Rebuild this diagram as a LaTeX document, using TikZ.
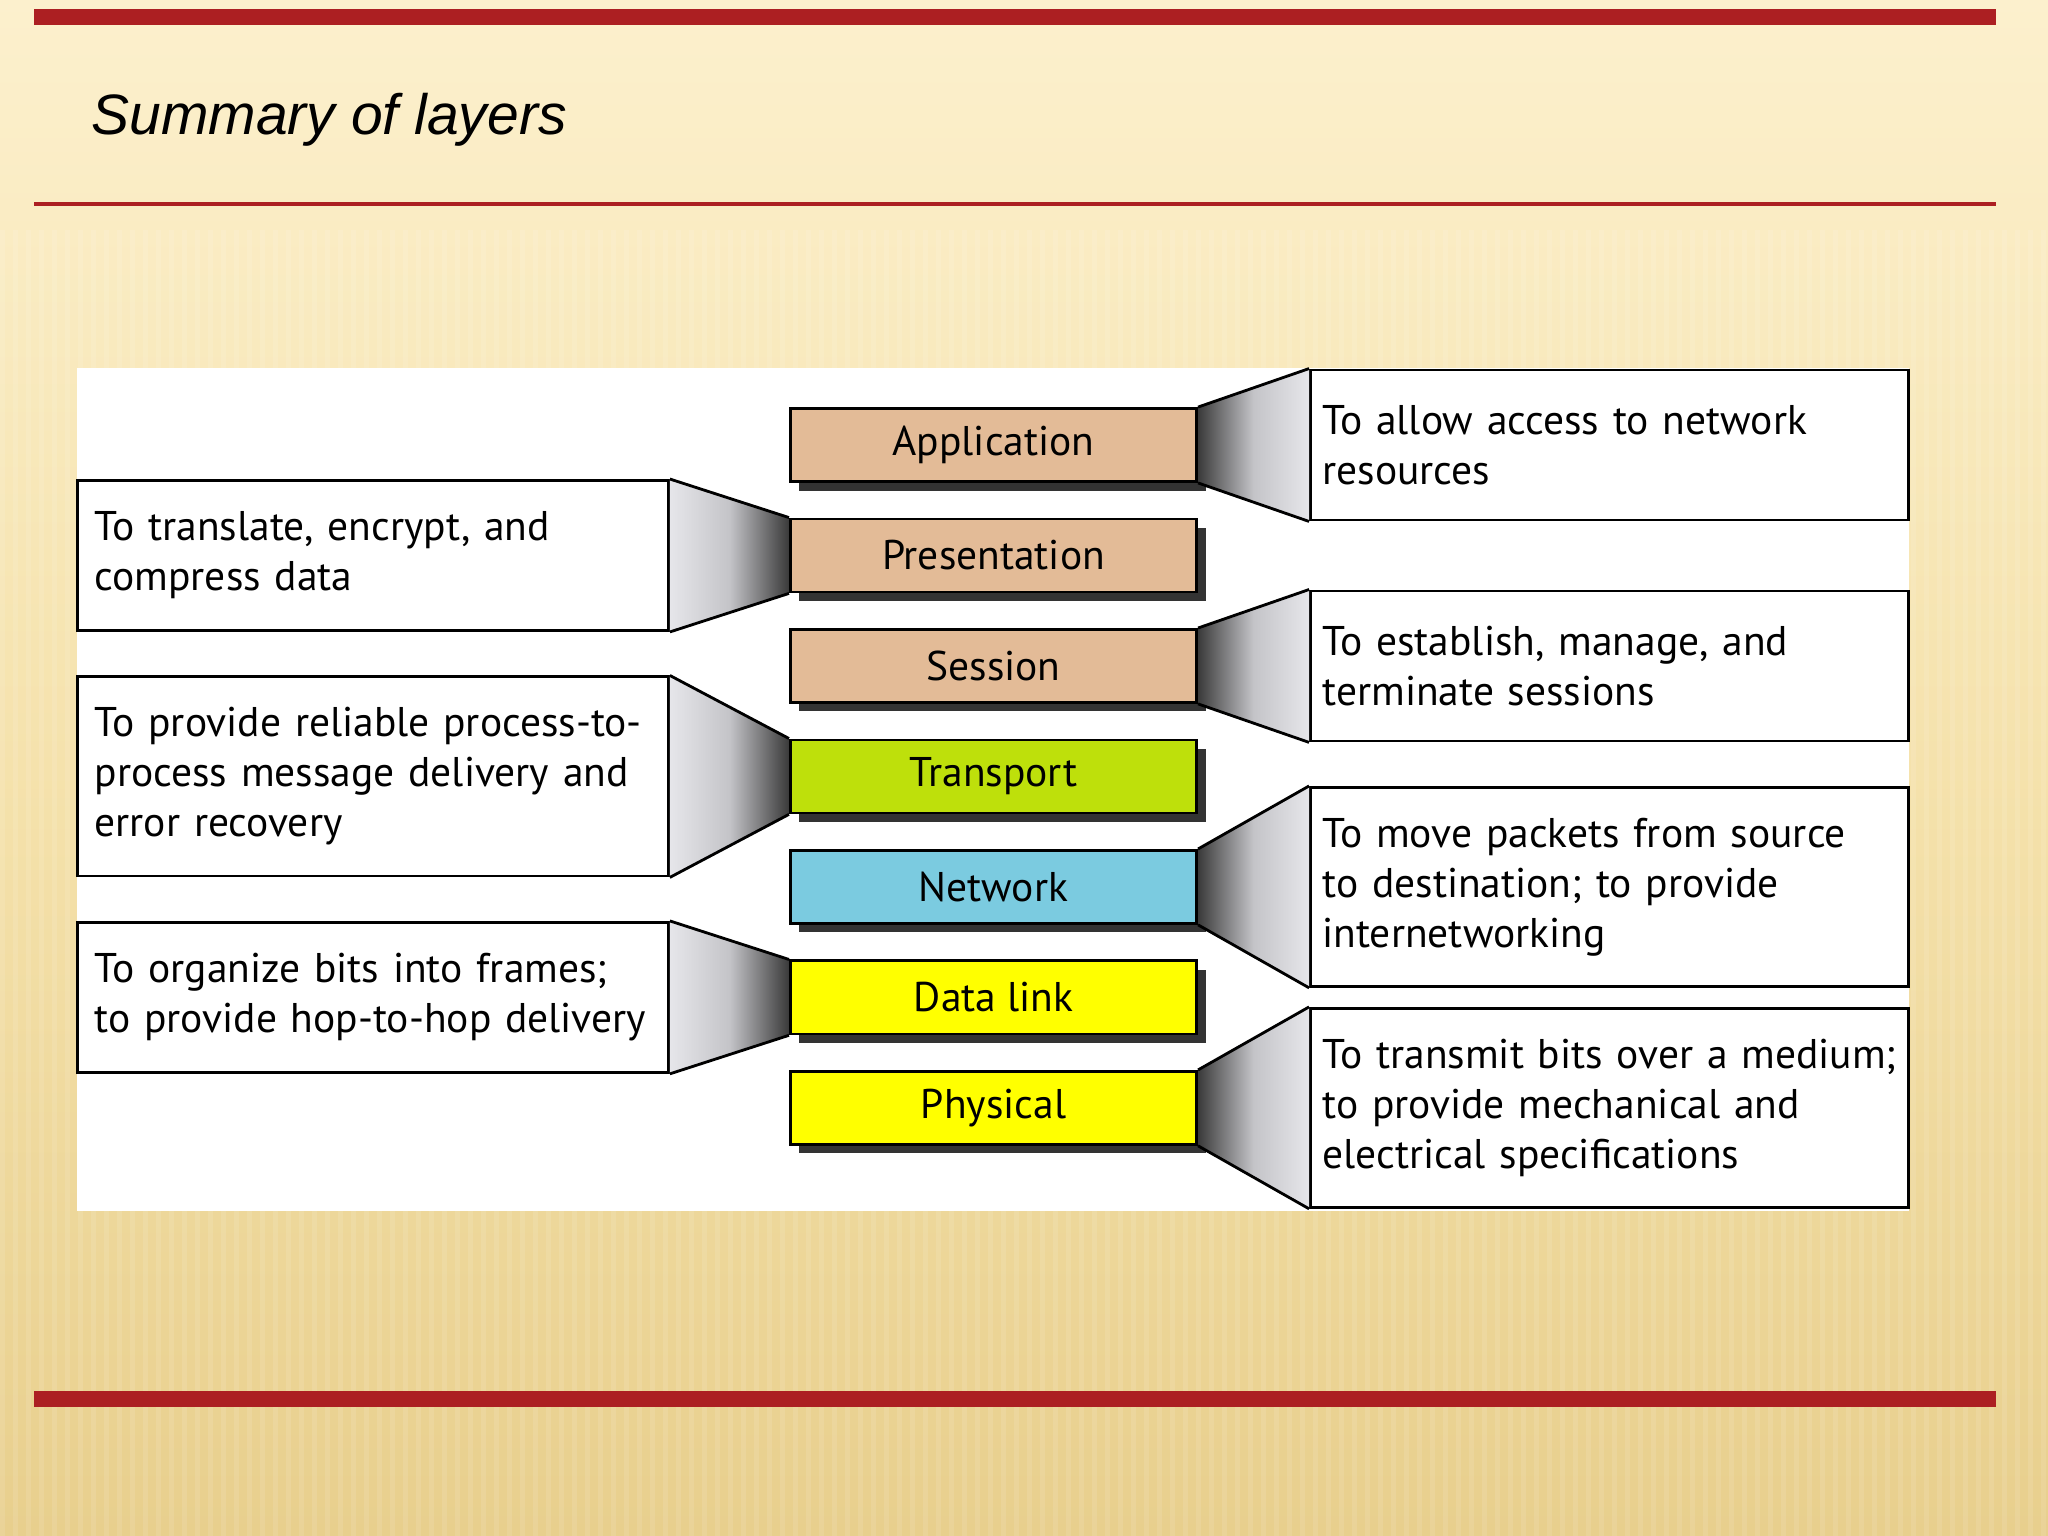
\documentclass[tikz,border=0pt]{standalone}
\usepackage{fontspec}
\setmainfont{PT Sans}
\newfontfamily\titlefont{Liberation Sans}
\usepackage{xcolor}
\usetikzlibrary{positioning,shadows}

\definecolor{slidetop}{HTML}{FCF0CD}
\definecolor{slidemid}{HTML}{F5E2AC}
\definecolor{slidebot}{HTML}{E8CF8D}
\definecolor{barred}{HTML}{AC1F22}
\definecolor{upperfill}{HTML}{E3BB97}
\definecolor{transfill}{HTML}{BEE00B}
\definecolor{netfill}{HTML}{7BCBE0}
\definecolor{linkfill}{HTML}{FFFF00}
\definecolor{shadowgray}{HTML}{333333}
\definecolor{funneldark}{HTML}{3A3A3A}
\definecolor{funnelmid}{HTML}{C4C4C8}
\definecolor{funnellight}{HTML}{E6E6EA}
\newcommand{\notesize}{\fontsize{11.8}{14.2}\selectfont}

\begin{document}
\begin{tikzpicture}[
    x=0.01cm, y=-0.01cm,
    layer/.style={draw, line width=0.8pt, minimum width=4.06cm, minimum height=0.73cm,
        inner sep=0pt, font=\notesize,
        drop shadow={shadow xshift=0.09cm, shadow yshift=-0.09cm, fill=shadowgray, opacity=1}},
    note/.style={draw, fill=white, line width=0.8pt, align=left, font=\notesize},
    leftnote/.style={note, text width=5.56cm, inner xsep=0.175cm},
    rightnote/.style={note, text width=5.74cm, inner xsep=0.12cm},
    twolines/.style={minimum height=1.50cm},
    threelines/.style={minimum height=1.99cm},
    funnel/.style={line width=0.8pt}
]
    % slide background
    \useasboundingbox (0,0) rectangle (2048,1536);
    \shade[top color=slidetop, bottom color=slidebot, middle color=slidemid] (0,0) rectangle (2048,1536);
    \foreach \sx in {0,13,...,2048}
        \fill[white, opacity=0.10] (\sx,230) rectangle ++(5,1306);
    \fill[barred] (34,9) rectangle (1996,25);
    \fill[barred] (34,202) rectangle (1996,206);
    \fill[barred] (34,1391) rectangle (1996,1407);
    \node[anchor=base west, inner sep=0pt, font=\titlefont\itshape\fontsize{16.2}{20}\selectfont] (title) at (91,134) {Summary of layers};

    % diagram panel
    \fill[white] (77,368) rectangle (1909,1211);

    % the seven layers
    \node[layer, fill=upperfill] (app) at (993.5,445) {Application};
    \node[layer, fill=upperfill, below=0.346cm of app] (pres) {Presentation};
    \node[layer, fill=upperfill, below=0.346cm of pres] (sess) {Session};
    \node[layer, fill=transfill, below=0.346cm of sess] (trans) {Transport};
    \node[layer, fill=netfill, below=0.346cm of trans] (net) {Network};
    \node[layer, fill=linkfill, below=0.346cm of net] (dlink) {Data link};
    \node[layer, fill=linkfill, below=0.346cm of dlink] (phys) {Physical};

    % what each layer does
    \node[leftnote, twolines, left=1.19cm of pres] (presnote) {To translate, encrypt, and\\compress data};
    \node[leftnote, threelines, left=1.19cm of trans] (transnote) {\mbox{To provide reliable process-to-}\\process message delivery and\\error recovery};
    \node[leftnote, twolines, left=1.19cm of dlink] (dlinknote) {To organize bits into frames;\\\mbox{to provide hop-to-hop delivery}};
    \node[rightnote, twolines, right=1.11cm of app] (appnote) {To allow access to network\\resources};
    \node[rightnote, twolines, right=1.11cm of sess] (sessnote) {To establish, manage, and\\terminate sessions};
    \node[rightnote, threelines, right=1.11cm of net] (netnote) {To move packets from source\\to destination; to provide\\internetworking};
    \node[rightnote, threelines, right=1.11cm of phys] (physnote) {\mbox{To transmit bits over a medium;}\\to provide mechanical and\\electrical specifications};

    % funnels from the notes to the layers
    \foreach \lay/\txt in {pres/presnote, trans/transnote, dlink/dlinknote} {
        \shade[left color=funnellight, right color=funneldark, middle color=funnelmid]
            (\txt.north east) -- (\lay.north west) -- (\lay.south west) -- (\txt.south east) -- cycle;
        \draw[funnel] (\txt.north east) -- (\lay.north west) (\txt.south east) -- (\lay.south west);
    }
    \foreach \lay/\txt in {app/appnote, sess/sessnote, net/netnote, phys/physnote} {
        \shade[left color=funneldark, right color=funnellight, middle color=funnelmid]
            (\lay.north east) -- (\txt.north west) -- (\txt.south west) -- (\lay.south east) -- cycle;
        \draw[funnel] (\lay.north east) -- (\txt.north west) (\lay.south east) -- (\txt.south west);
    }
\end{tikzpicture}
\end{document}
